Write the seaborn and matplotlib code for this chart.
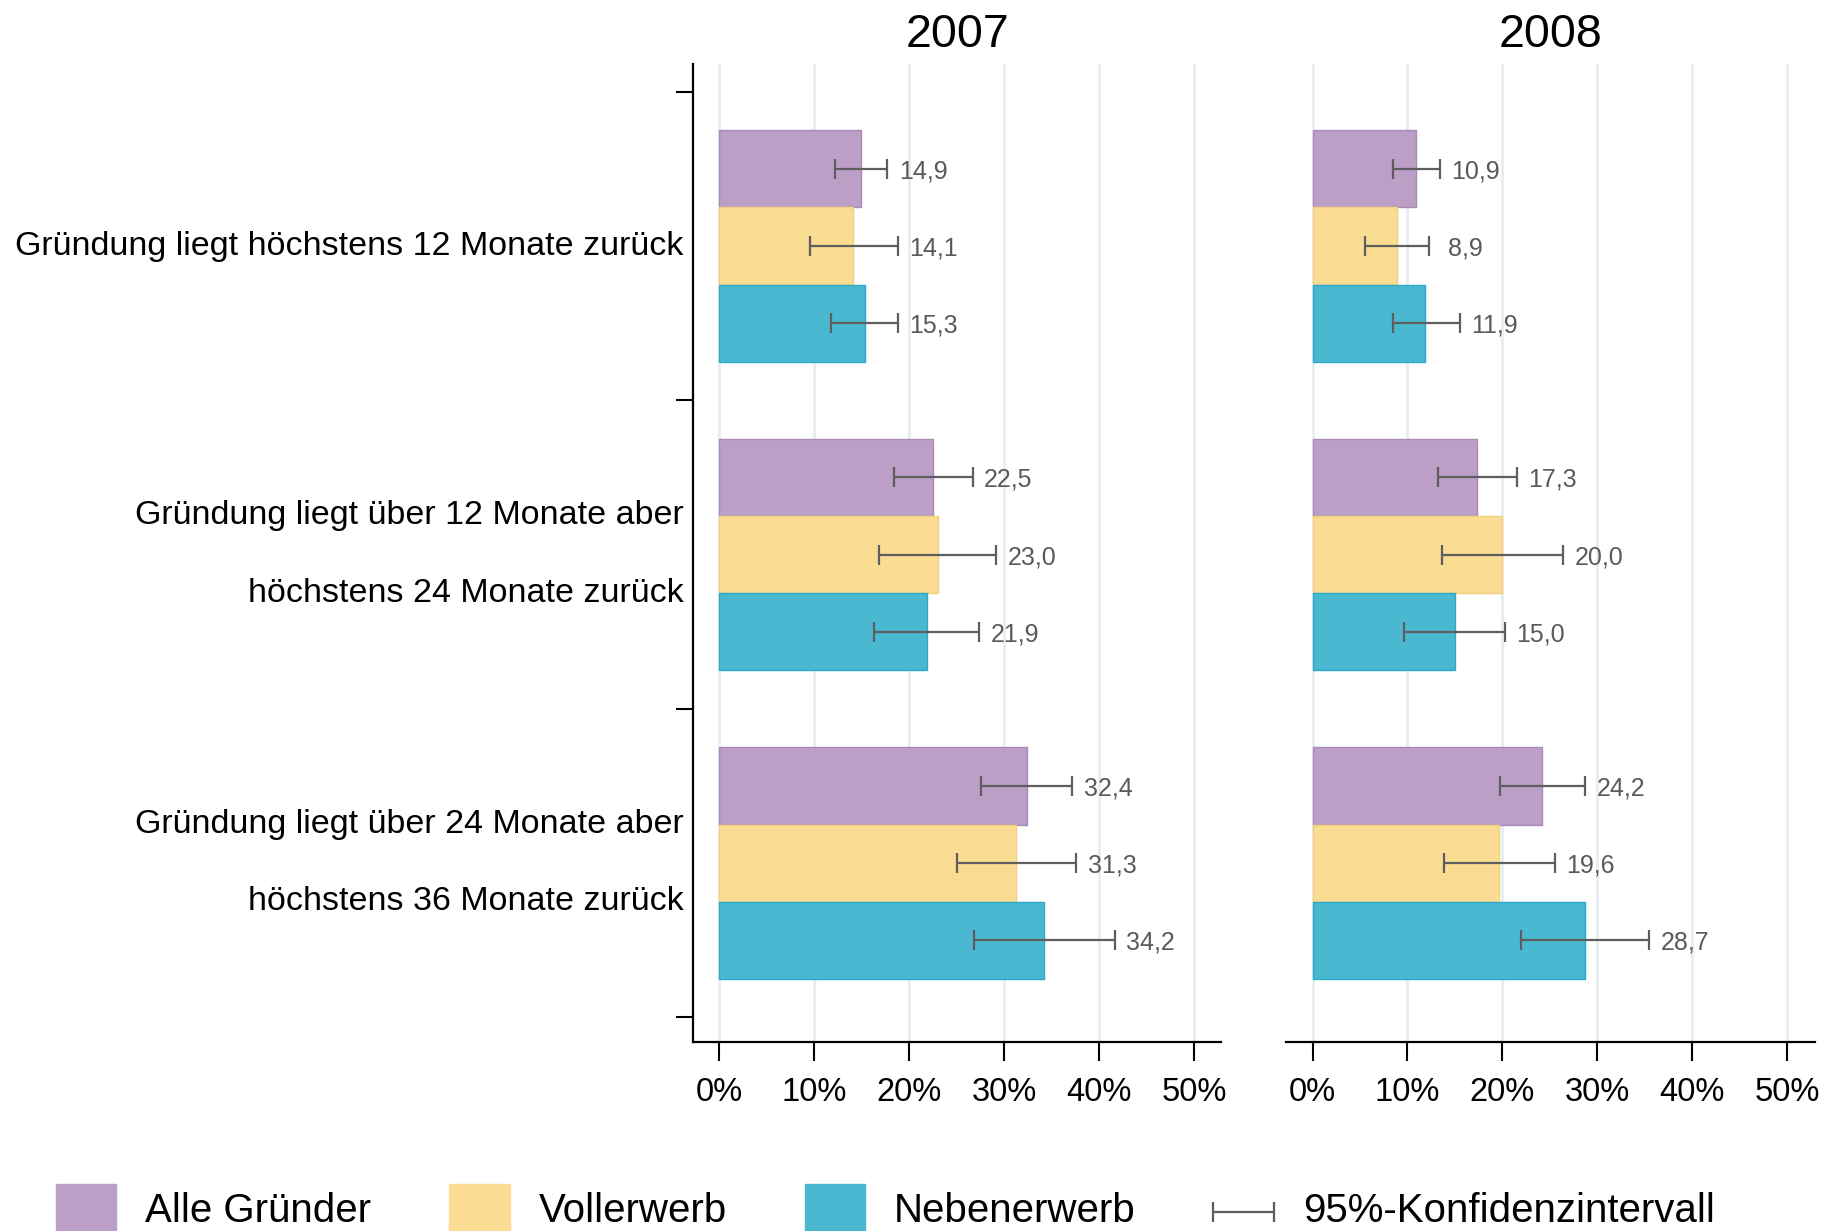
import pandas as pd
import seaborn as sns
import matplotlib.pyplot as plt
from matplotlib.patches import Patch
from matplotlib.container import ErrorbarContainer
from matplotlib.legend_handler import HandlerErrorbar
from matplotlib.ticker import FixedLocator, PercentFormatter

# Daten (in Prozent)
kategorien = ["Gründung liegt höchstens 12 Monate zurück",
              "Gründung liegt über 12 Monate aber\nhöchstens 24 Monate zurück",
              "Gründung liegt über 24 Monate aber\nhöchstens 36 Monate zurück"]
gruppen = ["Alle Gründer", "Vollerwerb", "Nebenerwerb"]
jahre = ["2007", "2008"]

alle_2007 = [14.9, 22.5, 32.4]
voll_2007 = [14.1, 23.0, 31.3]
neben_2007 = [15.3, 21.9, 34.2]
alle_2008 = [10.9, 17.3, 24.2]
voll_2008 = [8.9, 20.0, 19.6]
neben_2008 = [11.9, 15.0, 28.7]

# 95%-Konfidenzintervalle (untere / obere Grenze)
alle_2007_lo = [12.2, 18.4, 27.6]
alle_2007_hi = [17.7, 26.7, 37.2]
voll_2007_lo = [9.6, 16.8, 25.0]
voll_2007_hi = [18.8, 29.2, 37.6]
neben_2007_lo = [11.8, 16.3, 26.8]
neben_2007_hi = [18.8, 27.4, 41.7]
alle_2008_lo = [8.5, 13.2, 19.7]
alle_2008_hi = [13.4, 21.5, 28.7]
voll_2008_lo = [5.5, 13.6, 13.8]
voll_2008_hi = [12.3, 26.4, 25.5]
neben_2008_lo = [8.5, 9.6, 22.0]
neben_2008_hi = [15.5, 20.3, 35.5]

farben = ["#BB9FC7", "#FADC93", "#4BB8D1"]
kanten = ["#A98AB9", "#F3D07A", "#2BA9C7"]

werte = {"2007": [alle_2007, voll_2007, neben_2007],
         "2008": [alle_2008, voll_2008, neben_2008]}
untere = {"2007": [alle_2007_lo, voll_2007_lo, neben_2007_lo],
          "2008": [alle_2008_lo, voll_2008_lo, neben_2008_lo]}
obere = {"2007": [alle_2007_hi, voll_2007_hi, neben_2007_hi],
         "2008": [alle_2008_hi, voll_2008_hi, neben_2008_hi]}

sns.set_theme(style="white")
plt.rcParams["font.family"] = ["Liberation Sans", "DejaVu Sans"]
plt.rcParams["text.color"] = "black"
plt.rcParams["xtick.color"] = "black"
plt.rcParams["ytick.color"] = "black"
plt.rcParams["axes.titlecolor"] = "black"


class ErrHandler(HandlerErrorbar):
    # errorbar-symbol etwas nach unten schieben, auf hoehe der schrift
    def create_artists(self, legend, orig_handle, xdescent, ydescent,
                       width, height, fontsize, trans):
        return super().create_artists(legend, orig_handle, xdescent,
                                      ydescent + 0.45 * fontsize, width,
                                      height, fontsize, trans)


fig = plt.figure(figsize=(18.23, 12.31), dpi=100)
ax1 = fig.add_axes([0.380, 0.1535, 0.290, 0.7945])
ax2 = fig.add_axes([0.7054, 0.1535, 0.290, 0.7945])

err_handle = None
for ax, jahr in zip([ax1, ax2], jahre):
    rows = []
    for g, vals in zip(gruppen, werte[jahr]):
        for k, v in zip(kategorien, vals):
            rows.append({"kategorie": k, "gruppe": g, "wert": v})
    df = pd.DataFrame(rows)

    # vertikale Gitterlinien zuerst, damit sie hinter den Balken liegen
    ax.set_axisbelow(True)
    ax.grid(axis="x", color="#E6F0F1", linewidth=2.2)
    ax.grid(axis="y", visible=False)

    sns.barplot(data=df, y="kategorie", x="wert", hue="gruppe", orient="h",
                palette=farben, width=0.75, errorbar=None, legend=False,
                saturation=1, ax=ax)

    bar_containers = list(ax.containers)  # kopie, errorbar haengt sonst neue an
    for i, cont in enumerate(bar_containers):
        for j, bar in enumerate(cont.patches):
            bar.set_edgecolor(kanten[i])
            bar.set_linewidth(1.0)
            y = bar.get_y() + bar.get_height() / 2
            v = werte[jahr][i][j]
            lo = untere[jahr][i][j]
            hi = obere[jahr][i][j]
            c = ax.errorbar(v, y, xerr=[[v - lo], [hi - v]], fmt="none",
                            ecolor="#5E5E5E", elinewidth=1.6, capsize=7.5,
                            capthick=1.6, zorder=5)
            if err_handle is None:
                err_handle = c
            ax.text(hi + 1.2, y, f"{v:4.1f}".replace(".", ","),
                    va="center_baseline", ha="left", fontsize=18,
                    color="#5A5A5A")

    ax.set_xlim(-2.8, 52.9)
    ax.set_ylim(2.58, -0.59)
    ax.set_xticks([0, 10, 20, 30, 40, 50])
    ax.xaxis.set_major_formatter(PercentFormatter(decimals=0))
    ax.tick_params(axis="x", labelsize=23.5, length=13.5, width=1.5,
                   color="black", labelcolor="black", pad=12, bottom=True,
                   direction="out")
    ax.set_xlabel("")
    ax.set_ylabel("")
    ax.set_title(jahr, fontsize=33.5, pad=12, color="black")
    for s in ["top", "right"]:
        ax.spines[s].set_visible(False)
    ax.spines["bottom"].set_linewidth(1.6)
    ax.spines["bottom"].set_color("black")

# linke Achse mit Kategorien
ax1.spines["left"].set_linewidth(1.6)
ax1.spines["left"].set_color("black")
ax1.set_yticks([0, 1, 2])
ax1.set_yticklabels(kategorien)
ax1.yaxis.set_minor_locator(FixedLocator([-0.5, 0.5, 1.5, 2.5]))
ax1.tick_params(axis="y", which="major", length=0, labelsize=24.5, pad=6.5,
                labelcolor="black")
ax1.tick_params(axis="y", which="minor", left=True, length=12, width=1.5,
                color="black", direction="out")
for t in ax1.get_yticklabels():
    t.set_linespacing(2.93)
    t.set_verticalalignment("center")

ax2.spines["left"].set_visible(False)
ax2.set_yticks([])

# Legende unten
handles = [Patch(facecolor=f, edgecolor=f) for f in farben] + [err_handle]
labels = gruppen + ["95%-Konfidenzintervall"]
fig.legend(handles, labels, loc="center left", bbox_to_anchor=(0.0307, 0.018),
           ncol=4, frameon=False, fontsize=29, handlelength=1.5,
           handleheight=1.5, handletextpad=0.72, columnspacing=1.93,
           borderpad=0, borderaxespad=0,
           handler_map={ErrorbarContainer: ErrHandler(xerr_size=0.75)})

fig.savefig("out.png", dpi=100)
